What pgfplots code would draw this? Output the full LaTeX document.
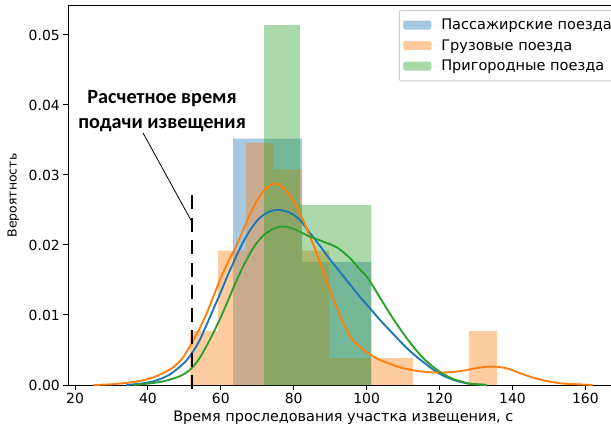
\documentclass[border=0pt]{standalone}
\usepackage{fontspec}
\setmainfont{DejaVu Sans}
\newfontfamily\annfont{Carlito}
\usepackage{pgfplots}
\pgfplotsset{compat=1.18}

\definecolor{tabblue}{HTML}{1F77B4}
\definecolor{taborange}{HTML}{FF7F0E}
\definecolor{tabgreen}{HTML}{2CA02C}
\definecolor{legframe}{HTML}{CCCCCC}

\begin{document}
\begin{tikzpicture}
\begin{axis}[
  scale only axis,
  width=542.7bp, height=379bp,
  xmin=18.15, xmax=167.04,
  ymin=0, ymax=0.05414,
  clip=false,
  axis x line*=box, axis y line*=left,
  axis line style={black, line width=1bp},
  xtick={20,40,60,80,100,120,140,160},
  ytick={0,0.01,0.02,0.03,0.04,0.05},
  xtick pos=bottom, ytick pos=left,
  tick align=outside,
  major tick length=5bp,
  tick style={black, line width=1bp},
  scaled y ticks=false,
  yticklabel style={/pgf/number format/.cd, fixed, fixed zerofill, precision=2},
  /pgf/number format/assume math mode=true,
  tick label style={font=\fontsize{14}{16}\selectfont},
  xlabel={Время проследования участка извещения, с},
  ylabel={Вероятность},
  xlabel style={at={(axis description cs:0.5067,-0.095)}, anchor=base, font=\fontsize{14.5}{17}\selectfont},
  ylabel style={at={(axis description cs:-0.1013,0.5)}, anchor=center, font=\fontsize{12.5}{15}\selectfont},
  legend style={at={(axis description cs:0.609,0.9894)}, anchor=north west,
    draw=legframe, line width=1bp, rounded corners=2bp, fill=white,
    font=\fontsize{14.6}{17}\selectfont, inner xsep=4bp, inner ysep=6.5bp,
    row sep=4.5bp, cells={anchor=west}},
  legend image code/.code={
    \fill[#1] (0bp,-4.5bp) rectangle (28bp,4.5bp);
    \path (0bp,0bp) -- (36bp,0bp);
  },
]

% histograms (density-normalised bins)
\addplot[const plot, fill=tabblue, fill opacity=0.4, draw=none]
  coordinates {(63.4,0.0352) (82.3,0.0176) (101.2,0)} \closedcycle;
\addlegendentry{Пассажирские поезда}

\addplot[const plot, fill=taborange, fill opacity=0.4, draw=none]
  coordinates {(51.55,0.00769) (59.2,0.0192) (66.85,0.0346) (74.5,0.0308)
               (82.15,0.0192) (89.8,0.00385) (97.45,0.00385) (105.1,0.00385)
               (112.75,0) (120.4,0) (128.05,0.00769) (135.7,0)} \closedcycle;
\addlegendentry{Грузовые поезда}

\addplot[const plot, fill=tabgreen, fill opacity=0.4, draw=none]
  coordinates {(71.9,0.0514) (81.7,0.0257) (91.5,0.0257) (101.3,0)} \closedcycle;
\addlegendentry{Пригородные поезда}

% kernel density estimates
\addplot[smooth, tabblue, line width=1.9bp, forget plot] coordinates {
  (34,0) (38,0.0002) (42,0.0006) (46,0.0015) (50,0.0032) (52,0.0045) (54,0.0062)
  (56,0.0085) (58,0.0109) (60,0.0133) (62,0.0158) (64,0.0181) (66,0.0203)
  (68,0.0221) (70,0.0235) (72,0.0244) (74,0.0249) (76,0.0250) (78,0.0248)
  (80,0.0243) (82,0.0234) (84,0.0220) (86,0.0207) (88,0.0193) (90,0.0179)
  (92,0.0166) (94,0.0153) (96,0.0140) (98,0.0127) (100,0.0115) (102,0.0103)
  (104,0.0091) (106,0.0080) (108,0.0069) (110,0.0058) (112,0.0048) (114,0.0039)
  (116,0.0031) (118,0.0023) (120,0.0016) (122,0.0011) (124,0.0007) (126,0.0004)
  (128,0.0002) (130,0.0001) (133,0)};

\addplot[smooth, taborange, line width=1.9bp, forget plot] coordinates {
  (25,0) (30,0.0001) (34,0.0003) (38,0.0006) (42,0.0012) (46,0.0022) (48,0.0030)
  (50,0.0042) (52,0.0060) (54,0.0079) (56,0.0101) (58,0.0127) (60,0.0153)
  (62,0.0176) (64,0.0196) (66,0.0220) (68,0.0244) (70,0.0264) (72,0.0279)
  (74,0.0287) (75,0.0288) (76,0.0286) (78,0.0277) (80,0.0262) (82,0.0242)
  (84,0.0218) (86,0.0192) (88,0.0163) (90,0.0135) (92,0.0108) (94,0.0084)
  (96,0.0065) (98,0.0055) (100,0.0047) (102,0.0040) (104,0.0035) (106,0.0031)
  (108,0.0027) (110,0.0024) (114,0.0020) (118,0.0018) (122,0.0018) (126,0.0020)
  (130,0.0024) (133,0.0026) (136,0.0026) (139,0.0023) (142,0.0017) (146,0.0010)
  (150,0.0005) (154,0.0002) (158,0.0001) (162,0)};

\addplot[smooth, tabgreen, line width=1.9bp, forget plot] coordinates {
  (36,0) (40,0.0002) (44,0.0005) (48,0.0011) (50,0.0016) (52,0.0024) (54,0.0037)
  (56,0.0055) (58,0.0075) (60,0.0097) (62,0.0121) (64,0.0146) (66,0.0168)
  (68,0.0188) (70,0.0204) (72,0.0215) (74,0.0222) (76,0.0226) (78,0.0226)
  (80,0.0223) (82,0.0218) (84,0.0213) (86,0.0209) (88,0.0205) (90,0.0201)
  (92,0.0196) (94,0.0188) (96,0.0178) (98,0.0166) (100,0.0155) (102,0.0139)
  (104,0.0122) (106,0.0105) (108,0.0089) (110,0.0074) (112,0.0060) (114,0.0047)
  (116,0.0036) (118,0.0027) (120,0.0019) (122,0.0013) (124,0.0008) (126,0.0005)
  (128,0.0002) (130,0.0001) (133,0)};

% design notification time marker
\addplot[black, line width=2.3bp, dash pattern=on 14bp off 8.5bp, forget plot]
  coordinates {(52.1,0.0271) (52.1,-0.0007)};
\addplot[black, line width=0.8bp, forget plot]
  coordinates {(38.66,0.0360) (52.05,0.0233)};
\node[anchor=base, font=\annfont\bfseries\fontsize{20.3}{24}\selectfont]
  at (axis cs:43.87,0.04024) {Расчетное время};
\node[anchor=base, font=\annfont\bfseries\fontsize{20.3}{24}\selectfont]
  at (axis cs:43.87,0.03667) {подачи извещения};
\end{axis}
\pgfresetboundingbox
\path ([xshift=-68.3bp,yshift=-45bp]current axis.south west)
  rectangle ([yshift=6bp]current axis.north east);
\end{tikzpicture}
\end{document}
